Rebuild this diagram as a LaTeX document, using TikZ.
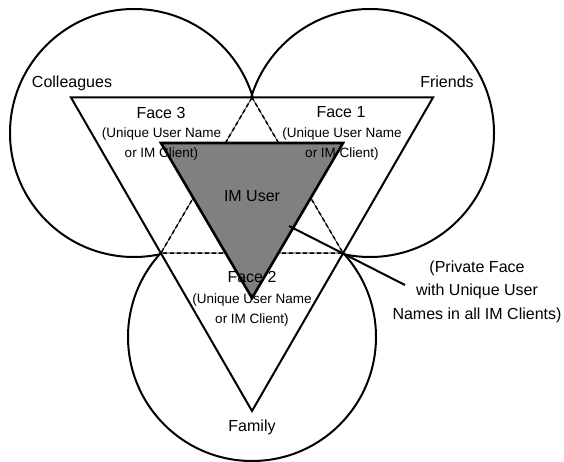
\documentclass[tikz,border=0pt]{standalone}
\usepackage{fontspec}
\setmainfont{Liberation Sans}
\usetikzlibrary{positioning}

\begin{document}
\begin{tikzpicture}[
  x=1pt, y=-1pt,
  ring/.style={draw, circle, line width=2pt, minimum size=248pt, inner sep=0pt},
  face/.style={draw, line width=2pt, fill=white, line join=miter},
  imuser/.style={draw, line width=2.6pt, fill=gray, line join=miter},
  hidden/.style={line width=0.6pt, postaction={draw, line width=1.5pt, dash pattern=on 4pt off 3pt}},
  label/.style={inner sep=0pt, font=\fontsize{16}{23.5}\selectfont, align=center},
  sublabel/.style={inner sep=0pt, font=\fontsize{13.5}{20}\selectfont, align=center},
  pointer/.style={line width=2pt}
]
\useasboundingbox (0,0) rectangle (564,462);
\node[ring] (colleagues) at (134,133) {};
\node[ring] (friends) at (370,133) {};
\node[ring] (family) at (252,337) {};
\coordinate (top) at (252,97.5);
\coordinate (left) at (161,253);
\coordinate (right) at (343,253);
\draw[face] (71,97.5) -- (433,97.5) -- (252,411) -- cycle;
\draw[hidden] (top) -- (left) -- (right) -- cycle;
\draw[imuser] (161,143) -- (343,143) -- (252,298) -- cycle;
\coordinate (ptr) at (289,226);
\coordinate (ptrend) at (405,285);
\draw[pointer] (ptr) -- (ptrend);
\node[label] (colleaguestext) at (72,83) {Colleagues};
\node[label] (friendstext) at (447,82) {Friends};
\node[label] (familytext) at (252,427) {Family};
\node[label] (imusertext) at (252,196) {IM User};
\node[label] (face3) at (161,113) {Face 3};
\node[sublabel] (face3sub) at (161.5,144) {(Unique User Name\\or IM Client)};
\node[label] (face1) at (341,112) {Face 1};
\node[sublabel] (face1sub) at (342,144) {(Unique User Name\\or IM Client)};
\node[label] (face2) at (252,277) {Face 2};
\node[sublabel] (face2sub) at (252,310) {(Unique User Name\\or IM Client)};
\node[label] (private) at (477,291.5) {(Private Face\\with Unique User\\Names in all IM Clients)};
\end{tikzpicture}
\end{document}
